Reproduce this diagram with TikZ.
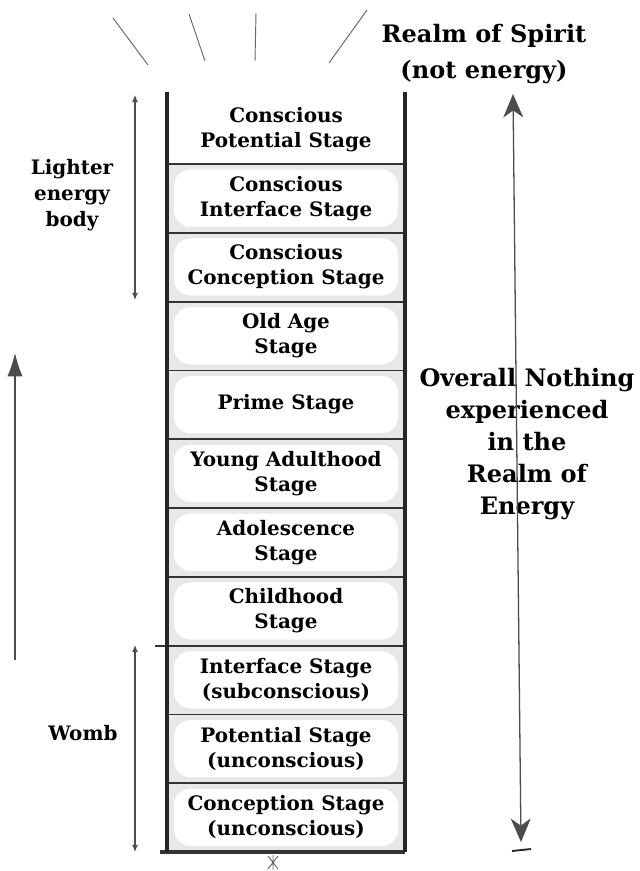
\documentclass[tikz,border=0pt]{standalone}
\usepackage{fontspec}
\setmainfont{DejaVu Serif}
\usetikzlibrary{arrows.meta}
\tikzset{
  stage/.style={minimum width=7.14cm, minimum height=2.064cm, inner sep=0pt,
    align=center, font=\bfseries\fontsize{17}{21.3}\selectfont},
  shaded/.style={fill=black!9, path picture={
    \fill[white, rounded corners=14pt]
      ([shift={(6pt,-5pt)}]path picture bounding box.north west) rectangle
      ([shift={(-6pt,5pt)}]path picture bounding box.south east);}},
  side/.style={line width=3.2pt, black!85},
  divider/.style={line width=1.6pt, black!80},
  biglabel/.style={align=center, font=\bfseries\fontsize{20.5}{27.2}\selectfont},
  smalllabel/.style={align=center, font=\bfseries\fontsize{17}{22}\selectfont},
  span/.style={black!70, line width=0.9pt},
  ray/.style={black!60, line width=0.8pt}
}
\begin{document}
\begin{tikzpicture}[x=0.03cm, y=-0.03cm]
  \useasboundingbox (0,0) rectangle (639,871);
  % stages, top to bottom
  \draw
    (286,129.4) node[stage] (s1) {Conscious\\Potential Stage}
    (286,198.2) node[stage,shaded] (s2) {Conscious\\Interface Stage}
    (286,267.0) node[stage,shaded] (s3) {Conscious\\Conception Stage}
    (286,335.8) node[stage,shaded] (s4) {Old Age\\Stage}
    (286,404.6) node[stage,shaded] (s5) {Prime Stage}
    (286,473.4) node[stage,shaded] (s6) {Young Adulthood\\Stage}
    (286,542.2) node[stage,shaded] (s7) {Adolescence\\Stage}
    (286,611.0) node[stage,shaded] (s8) {Childhood\\Stage}
    (286,679.8) node[stage,shaded] (s9) {Interface Stage\\(subconscious)}
    (286,748.6) node[stage,shaded] (s10) {Potential Stage\\(unconscious)}
    (286,817.4) node[stage,shaded] (s11) {Conception Stage\\(unconscious)};
  \begin{scope}[divider]
    \draw (s1.south west) to (s1.south east);
    \draw (s2.south west) to (s2.south east);
    \draw (s3.south west) to (s3.south east);
    \draw (s4.south west) to (s4.south east);
    \draw (s5.south west) to (s5.south east);
    \draw (s6.south west) to (s6.south east);
    \draw (s7.south west) to (s7.south east);
    \draw ([xshift=-10pt]s8.south west) to (s8.south east);
    \draw (s9.south west) to (s9.south east);
    \draw (s10.south west) to (s10.south east);
    \draw[line width=3pt] ([xshift=-6pt]s11.south west) to (s11.south east);
  \end{scope}
  \draw[side] ([yshift=2pt]s1.north west) to (s11.south west);
  \draw[side] ([yshift=2pt]s1.north east) to (s11.south east);
  % side labels
  \node[smalllabel] (lighter) at (72,195) {Lighter\\energy\\body};
  \node[smalllabel] (womb) at (83,733) {Womb};
  \node[biglabel, font=\bfseries\fontsize{20.5}{31}\selectfont] (spirit) at (484,54) {Realm of Spirit\\(not energy)};
  \node[biglabel] (nothing) at (527,444) {Overall Nothing\\experienced\\in the\\Realm of\\Energy};
  % arrows
  \coordinate (l1) at (135,95);  \coordinate (l2) at (135,300);
  \coordinate (w1) at (135,645); \coordinate (w2) at (135,852);
  \coordinate (u1) at (15,660);  \coordinate (u2) at (15,353);
  \coordinate (r1) at (513,94);  \coordinate (r2) at (521,842);
  \coordinate (b1) at (512,851); \coordinate (b2) at (531,849);
  \draw[span, {Latex[length=6pt,width=5pt]}-{Latex[length=6pt,width=5pt]}] (l1) to (l2);
  \draw[span, {Latex[length=6pt,width=5pt]}-{Latex[length=6pt,width=5pt]}] (w1) to (w2);
  \draw[span, -{Latex[length=20pt,width=13pt]}] (u1) to (u2);
  \draw[span, line width=1.1pt, {Stealth[length=20pt,width=17pt,inset=6pt]}-{Stealth[length=20pt,width=17pt,inset=6pt]}] (r1) to (r2);
  \draw[black!85, line width=1.6pt] (b1) to (b2);
  % rays above the column
  \draw[ray] (113,18) -- (148,65);
  \draw[ray] (189,14) -- (205,61);
  \draw[ray] (256,13) -- (255,61);
  \draw[ray] (367,10) -- (329,63);
  % small mark under the column
  \draw[ray] (268,856) -- (278,869) (278,856) -- (268,869) (273,855) -- (273,870);
\end{tikzpicture}
\end{document}
